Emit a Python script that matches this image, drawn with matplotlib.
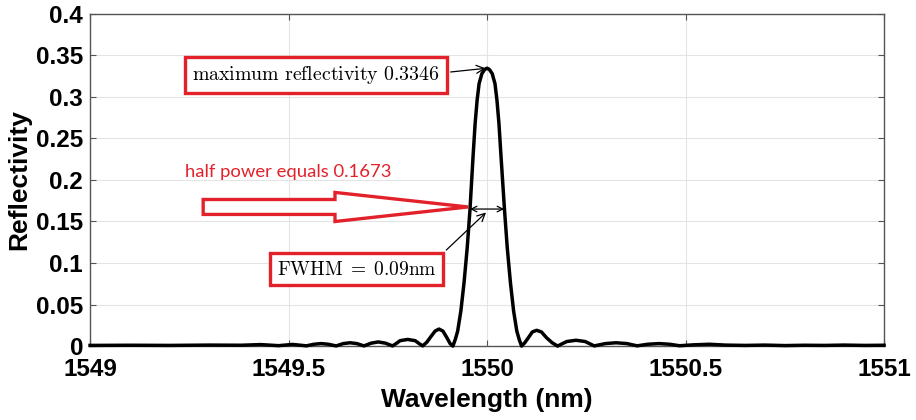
import matplotlib
matplotlib.use('Agg')

import matplotlib.pyplot as plt
from matplotlib.patches import FancyArrow
from matplotlib.ticker import FormatStrFormatter

# reflectivity spectrum
wavelength = [
    1549.000, 1549.100, 1549.200, 1549.300, 1549.380, 1549.430, 1549.475,
    1549.510, 1549.545, 1549.564, 1549.582, 1549.600, 1549.620, 1549.638,
    1549.655, 1549.672, 1549.690, 1549.708, 1549.726, 1549.744, 1549.762,
    1549.771, 1549.781, 1549.800, 1549.819, 1549.829, 1549.838, 1549.848,
    1549.858, 1549.869, 1549.879, 1549.889, 1549.899, 1549.907, 1549.914,
    1549.920, 1549.926, 1549.934, 1549.942, 1549.950, 1549.957, 1549.965,
    1549.970, 1549.975, 1549.980, 1549.987, 1549.994, 1550.000,
    1550.006, 1550.013, 1550.020, 1550.025, 1550.030, 1550.035, 1550.044,
    1550.051, 1550.059, 1550.067, 1550.075, 1550.081, 1550.087,
    1550.095, 1550.104, 1550.114, 1550.125, 1550.137, 1550.150, 1550.164,
    1550.178, 1550.190, 1550.201, 1550.224, 1550.247, 1550.258, 1550.270,
    1550.298, 1550.325, 1550.352, 1550.378, 1550.405, 1550.433, 1550.460,
    1550.485, 1550.520, 1550.560, 1550.600, 1550.650, 1550.700, 1550.750,
    1550.800, 1550.850, 1550.900, 1550.950, 1551.000,
]
reflectivity = [
    0.0008, 0.0010, 0.0008, 0.0012, 0.0010, 0.0018, 0.0005,
    0.0020, 0.0003, 0.0022, 0.0030, 0.0022, 0.0002, 0.0030,
    0.0040, 0.0030, 0.0002, 0.0035, 0.0050, 0.0035, 0.0002,
    0.0030, 0.0065, 0.0080, 0.0065, 0.0030, 0.0002, 0.0045,
    0.0110, 0.0180, 0.0205, 0.0180, 0.0100, 0.0030, 0.0000,
    0.0080, 0.0180, 0.0420, 0.0760, 0.1180, 0.1640, 0.2300,
    0.2680, 0.2960, 0.3160, 0.3280, 0.3330, 0.3346,
    0.3330, 0.3280, 0.3160, 0.2960, 0.2680, 0.2300, 0.1640,
    0.1180, 0.0760, 0.0420, 0.0180, 0.0080, 0.0000,
    0.0040, 0.0100, 0.0170, 0.0190, 0.0170, 0.0100, 0.0040,
    0.0000, 0.0030, 0.0055, 0.0070, 0.0055, 0.0030, 0.0002,
    0.0030, 0.0040, 0.0030, 0.0003, 0.0022, 0.0030, 0.0022,
    0.0004, 0.0015, 0.0022, 0.0012, 0.0008, 0.0012, 0.0006,
    0.0010, 0.0008, 0.0012, 0.0008, 0.0010,
]

peak_wl = 1550.0
peak_r = 0.3346
half_r = 0.1673
fwhm_left = 1549.957
fwhm_right = 1550.043

xticks = [1549, 1549.5, 1550, 1550.5, 1551]
yticks = [0, 0.05, 0.1, 0.15, 0.2, 0.25, 0.3, 0.35, 0.4]

red = '#e3212b'

plt.rcParams['mathtext.fontset'] = 'cm'

fig = plt.figure(figsize=(9.16, 4.2), dpi=100)
ax = fig.add_axes([0.0983, 0.176, 0.8668, 0.791])

ax.plot(wavelength, reflectivity, color='black', lw=2.5, clip_on=False, zorder=3)

ax.set_xlim(1549, 1551)
ax.set_ylim(0, 0.4)
ax.set_xticks(xticks)
ax.set_yticks(yticks)
ax.xaxis.set_major_formatter(FormatStrFormatter('%g'))
ax.yaxis.set_major_formatter(FormatStrFormatter('%g'))
ax.grid(True, color='#e4e4e4', lw=0.8)
ax.set_axisbelow(True)
for s in ax.spines.values():
    s.set_color('#555555')
    s.set_linewidth(1.0)
ax.tick_params(direction='in', length=4, color='#555555', top=True, right=True,
               labelsize=17.5)
ax.tick_params(axis='x', pad=8.5)
ax.tick_params(axis='y', pad=5)
for lab in ax.get_xticklabels() + ax.get_yticklabels():
    lab.set_fontfamily('Liberation Sans')
    lab.set_fontweight('bold')

ax.set_xlabel('Wavelength (nm)', fontfamily='Liberation Sans', fontweight='bold',
              fontsize=19, labelpad=5)
ax.set_ylabel('Reflectivity', fontfamily='Liberation Sans', fontweight='bold',
              fontsize=19, labelpad=3)

box = dict(boxstyle='square,pad=0.35', fc='white', ec=red, lw=2.4)

ax.annotate(r'$\mathrm{maximum\ reflectivity\ 0.3346}$', xy=(peak_wl, peak_r),
            xytext=(1549.569, 0.326), ha='center', va='center', fontsize=14.3, bbox=box,
            arrowprops=dict(arrowstyle='->', color='black', lw=0.9, relpos=(1, 0.6),
                            shrinkA=2, shrinkB=1))

ax.annotate(r'$\mathrm{FWHM}\;=\;0.09\mathrm{nm}$', xy=(1550.0, 0.162),
            xytext=(1549.671, 0.0928), ha='center', va='center', fontsize=14, bbox=box,
            arrowprops=dict(arrowstyle='->', color='black', lw=0.9, relpos=(1, 1),
                            shrinkA=2, shrinkB=1))

ax.annotate('', xy=(fwhm_left, 0.165), xytext=(fwhm_right, 0.165),
            arrowprops=dict(arrowstyle='<->', color='black', lw=0.9, shrinkA=0, shrinkB=0))

ax.text(1549.24, 0.21, 'half power equals ' + str(half_r), color=red, fontsize=13.3,
        fontfamily='Lato', ha='left', va='center')

ax.add_patch(FancyArrow(1549.285, 0.1675, 0.667, 0, width=0.018, head_width=0.035,
                        head_length=0.335, length_includes_head=True,
                        fc='white', ec=red, lw=2.4, zorder=4))

fig.savefig('out.png', dpi=100)
